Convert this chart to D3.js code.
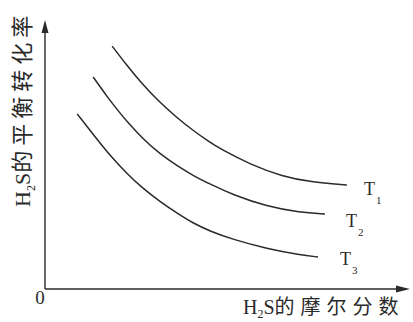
<!DOCTYPE html>
<html>
<head>
<meta charset="utf-8">
<script src="https://cdn.jsdelivr.net/npm/d3@7"></script>
<style>
  html, body { margin: 0; padding: 0; background: #fff; }
  svg { display: block; }
</style>
</head>
<body>
<svg id="chart" width="413" height="322"></svg>
<script>
// H2S equilibrium conversion vs. H2S mole fraction at three temperatures
const seriesNames = ["T1", "T2", "T3"];
const xT1 = [0.184, 0.225, 0.260, 0.307, 0.362, 0.405, 0.452, 0.479, 0.562, 0.652, 0.726, 0.827];
const yT1 = [0.903, 0.830, 0.772, 0.703, 0.636, 0.590, 0.545, 0.522, 0.463, 0.418, 0.398, 0.387];
const xT2 = [0.132, 0.170, 0.205, 0.225, 0.268, 0.315, 0.362, 0.405, 0.452, 0.515, 0.608, 0.699, 0.767];
const yT2 = [0.788, 0.715, 0.655, 0.622, 0.558, 0.502, 0.458, 0.422, 0.390, 0.350, 0.307, 0.284, 0.279];
const xT3 = [0.088, 0.132, 0.178, 0.225, 0.268, 0.315, 0.362, 0.405, 0.452, 0.515, 0.608, 0.699, 0.748];
const yT3 = [0.651, 0.575, 0.496, 0.428, 0.374, 0.325, 0.282, 0.245, 0.215, 0.184, 0.150, 0.127, 0.119];

const svg = d3.select("#chart");
const ink = "#2a2a2a";
const serif = "'Liberation Serif', 'DejaVu Serif', serif";
const cjk = "'Noto Sans CJK SC', 'Noto Sans', sans-serif";

const x = d3.scaleLinear().domain([0, 1]).range([45, 410]);
const y = d3.scaleLinear().domain([0, 1]).range([289, 20]);

// axes with arrowheads
const axes = svg.append("g").attr("stroke", ink).attr("stroke-width", 1.4).attr("fill", "none");
axes.append("line").attr("x1", x(0)).attr("y1", y(0)).attr("x2", x(0)).attr("y2", y(1) + 6);
axes.append("line").attr("x1", x(0)).attr("y1", y(0)).attr("x2", x(1) - 6).attr("y2", y(0));
svg.append("path")
  .attr("d", `M${x(0)},${y(1)} L${x(0) - 3.5},${y(1) + 13} L${x(0) + 3.5},${y(1) + 13} Z`)
  .attr("fill", ink);
svg.append("path")
  .attr("d", `M${x(1)},${y(0)} L${x(1) - 14},${y(0) - 3.5} L${x(1) - 14},${y(0) + 3.5} Z`)
  .attr("fill", ink);

// origin
svg.append("text").attr("x", 40).attr("y", 304).attr("text-anchor", "middle")
  .attr("font-family", serif).attr("font-size", 19).attr("fill", ink).text("0");

// curves
const line = d3.line().x(d => x(d[0])).y(d => y(d[1])).curve(d3.curveBasis);
const series = [
  { name: seriesNames[0], xs: xT1, ys: yT1 },
  { name: seriesNames[1], xs: xT2, ys: yT2 },
  { name: seriesNames[2], xs: xT3, ys: yT3 }
];
series.forEach(s => {
  svg.append("path")
    .datum(d3.zip(s.xs, s.ys))
    .attr("d", line)
    .attr("fill", "none")
    .attr("stroke", ink)
    .attr("stroke-width", 1.5);
});

// curve labels T1, T2, T3
const labelPos = [[364, 195], [346, 227], [340, 265]];
series.forEach((s, i) => {
  const t = svg.append("text")
    .attr("x", labelPos[i][0]).attr("y", labelPos[i][1])
    .attr("font-family", serif).attr("font-size", 18).attr("fill", ink);
  t.append("tspan").text(s.name[0]);
  t.append("tspan").attr("dx", 1).attr("dy", 9).attr("font-size", 11).text(s.name.slice(1));
});

// x-axis title
const xt = svg.append("text").attr("x", 243).attr("y", 314)
  .attr("font-family", cjk).attr("font-size", 20).attr("fill", ink);
xt.append("tspan").attr("font-family", serif).text("H");
xt.append("tspan").attr("font-family", serif).attr("font-size", 12).attr("dy", 4).text("2");
xt.append("tspan").attr("font-family", serif).attr("dy", -4).text("S");
xt.append("tspan").attr("letter-spacing", 6).text("的摩尔分数");

// y-axis title
const yt = svg.append("text")
  .attr("transform", "translate(30,207) rotate(-90)")
  .attr("font-family", cjk).attr("font-size", 22).attr("fill", ink);
yt.append("tspan").attr("font-family", serif).text("H");
yt.append("tspan").attr("font-family", serif).attr("font-size", 12).attr("dy", 5).text("2");
yt.append("tspan").attr("font-family", serif).attr("dy", -5).text("S");
yt.append("tspan").attr("letter-spacing", 5).text("的平衡转化率");
</script>
</body>
</html>
